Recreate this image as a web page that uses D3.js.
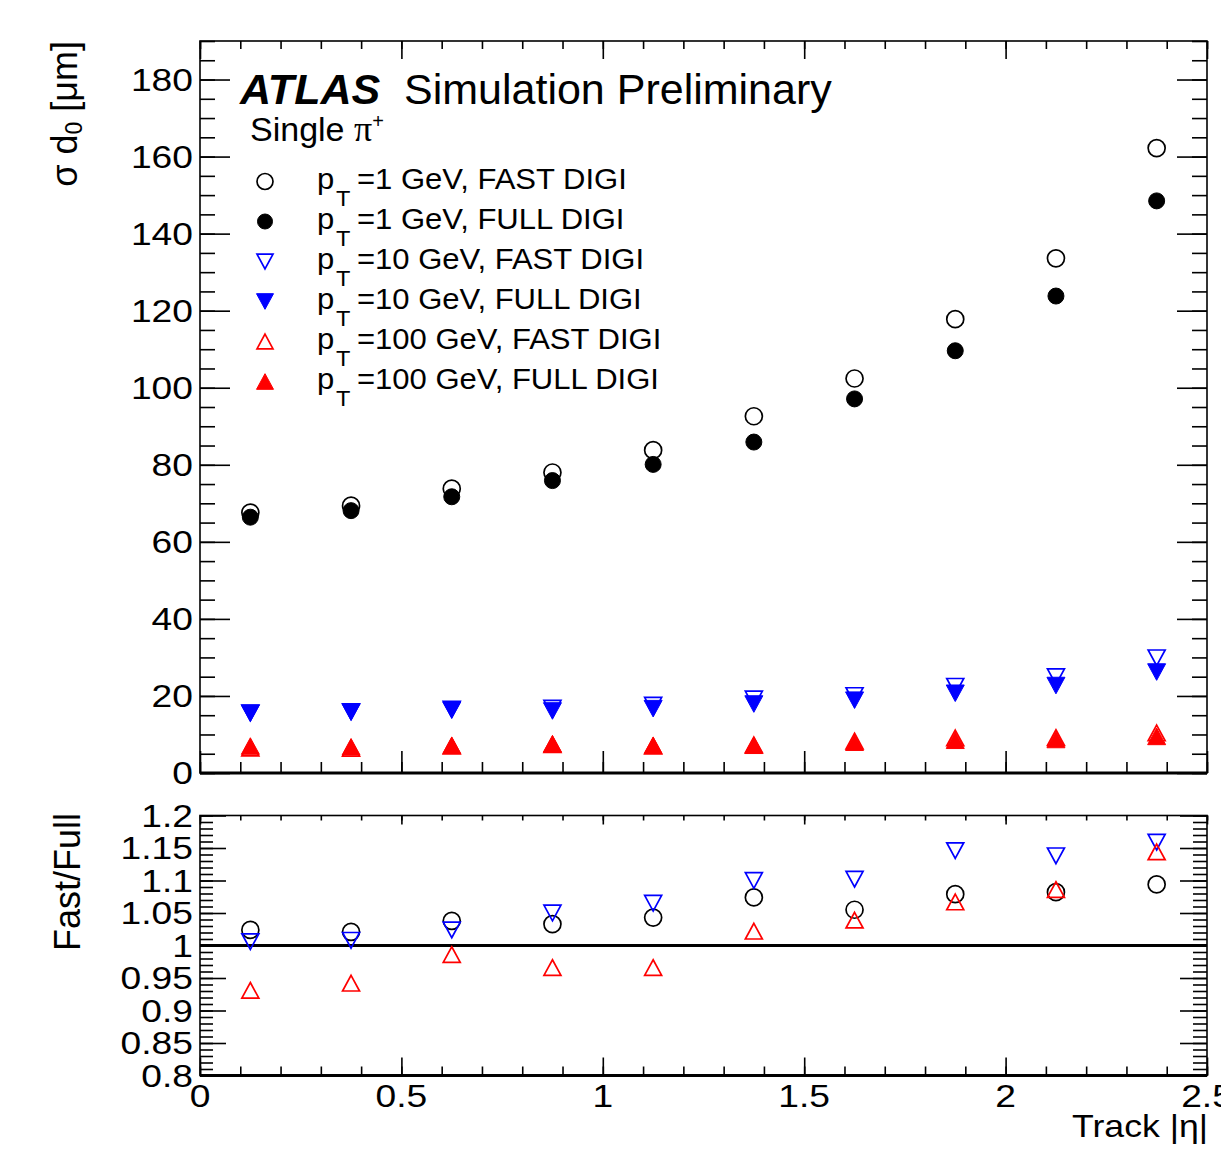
<!DOCTYPE html>
<html>
<head>
<meta charset="utf-8">
<script src="https://cdn.jsdelivr.net/npm/d3@7"></script>
<style>
  body { margin: 0; background: #fff; }
  svg { display: block; }
  text { font-family: "Liberation Sans", Arial, Helvetica, sans-serif; fill: #000; }
</style>
</head>
<body>
<svg id="chart" width="1221" height="1161"></svg>
<script>
// |eta| bin centres
const etaBins = [0.125, 0.375, 0.625, 0.875, 1.125, 1.375, 1.625, 1.875, 2.125, 2.375];

// sigma(d0) in micrometres
const sigmaFast1   = [67.6, 69.4, 73.8, 78.0, 83.8, 92.6, 102.4, 117.8, 133.6, 162.2];
const sigmaFull1   = [66.4, 68.1, 71.7, 75.9, 80.1, 85.9, 97.1, 109.6, 123.8, 148.5];
const sigmaFast10  = [15.6, 15.9, 16.6, 16.8, 17.6, 19.2, 20.1, 22.5, 25.0, 29.9];
const sigmaFull10  = [15.5, 15.8, 16.3, 16.1, 16.7, 17.9, 18.9, 20.7, 22.7, 26.2];
const sigmaFast100 = [6.5, 6.4, 7.0, 7.4, 7.0, 7.3, 8.3, 9.1, 9.2, 10.4];
const sigmaFull100 = [7.0, 6.8, 7.2, 7.6, 7.2, 7.2, 8.0, 8.5, 8.7, 9.5];

// Fast/Full ratios
const ratio1   = [1.024, 1.021, 1.038, 1.033, 1.043, 1.074, 1.055, 1.079, 1.082, 1.094];
const ratio10  = [1.006, 1.008, 1.024, 1.050, 1.065, 1.100, 1.102, 1.146, 1.138, 1.159];
const ratio100 = [0.931, 0.942, 0.986, 0.966, 0.966, 1.022, 1.039, 1.067, 1.086, 1.144];

// tick labels
const etaTickLabels   = ["0", "0.5", "1", "1.5", "2", "2.5"];
const sigmaTickLabels = ["0", "20", "40", "60", "80", "100", "120", "140", "160", "180"];
const ratioTickLabels = ["0.8", "0.85", "0.9", "0.95", "1", "1.05", "1.1", "1.15", "1.2"];

const legendLabels = ["=1 GeV, FAST DIGI", "=1 GeV, FULL DIGI", "=10 GeV, FAST DIGI",
                      "=10 GeV, FULL DIGI", "=100 GeV, FAST DIGI", "=100 GeV, FULL DIGI"];

const svg = d3.select("#chart");

const x = d3.scaleLinear().domain([0, 2.5]).range([200, 1207]);
const yTop = d3.scaleLinear().domain([0, 190]).range([773, 41]);
const yRat = d3.scaleLinear().domain([0.8, 1.2]).range([1075.5, 815.5]);

// ---- marker shapes (bounding-box centred, ROOT style) ----
const triUp = { draw(ctx, s) { const w = s, h = s * 0.92;
  ctx.moveTo(0, -h / 2); ctx.lineTo(w / 2, h / 2); ctx.lineTo(-w / 2, h / 2); ctx.closePath(); } };
const triDown = { draw(ctx, s) { const w = s, h = s * 0.92;
  ctx.moveTo(0, h / 2); ctx.lineTo(w / 2, -h / 2); ctx.lineTo(-w / 2, -h / 2); ctx.closePath(); } };
const ring = { draw(ctx, s) { ctx.moveTo(s / 2, 0); ctx.arc(0, 0, s / 2, 0, 2 * Math.PI); } };

const styles = [
  { shape: ring,    color: "#000000", filled: false, size: 17 },
  { shape: ring,    color: "#000000", filled: true,  size: 16 },
  { shape: triDown, color: "#0000ff", filled: false, size: 17 },
  { shape: triDown, color: "#0000ff", filled: true,  size: 18 },
  { shape: triUp,   color: "#ff0000", filled: false, size: 17 },
  { shape: triUp,   color: "#ff0000", filled: true,  size: 18 }
];

function drawMarkers(parent, values, st, yScale) {
  parent.append("g").selectAll("path").data(values).join("path")
    .attr("transform", (d, i) => `translate(${x(etaBins[i])},${yScale(d)})`)
    .attr("d", d3.symbol(st.shape, st.size))
    .attr("fill", st.filled ? st.color : "none")
    .attr("stroke", st.color)
    .attr("stroke-width", st.filled ? 1 : 1.7);
}

// ---- ticks via d3 axes (inward pointing) ----
function ticks(make, scale, tx, ty, values, len) {
  const g = svg.append("g").attr("transform", `translate(${tx},${ty})`)
    .call(make(scale).tickValues(values).tickSize(-len).tickSizeOuter(0).tickFormat(""));
  g.select(".domain").remove();
  g.selectAll(".tick line").attr("stroke", "#000").attr("stroke-width", 1.6);
}

const etaMajor = etaTickLabels.map(Number);
const etaMinor = d3.range(0, 26).map(v => v / 10);
const sigMajor = sigmaTickLabels.map(Number);
const sigMinor = d3.range(0, 191, 5);
const ratMajor = ratioTickLabels.map(Number);
const ratMinor = d3.range(80, 121).map(v => v / 100);

// upper pad
ticks(d3.axisLeft,   yTop, 200, 0, sigMinor, 15);
ticks(d3.axisLeft,   yTop, 200, 0, sigMajor, 30);
ticks(d3.axisRight,  yTop, 1207, 0, sigMinor, 15);
ticks(d3.axisRight,  yTop, 1207, 0, sigMajor, 30);
ticks(d3.axisBottom, x, 0, 773, etaMinor, 11);
ticks(d3.axisBottom, x, 0, 773, etaMajor, 22);
ticks(d3.axisTop,    x, 0, 41, etaMinor, 8);
ticks(d3.axisTop,    x, 0, 41, etaMajor, 18);

// lower pad
ticks(d3.axisLeft,   yRat, 200, 0, ratMinor, 13);
ticks(d3.axisLeft,   yRat, 200, 0, ratMajor, 26);
ticks(d3.axisRight,  yRat, 1207, 0, ratMinor, 14);
ticks(d3.axisRight,  yRat, 1207, 0, ratMajor, 27);
ticks(d3.axisBottom, x, 0, 1075.5, etaMinor, 9);
ticks(d3.axisBottom, x, 0, 1075.5, etaMajor, 18);
ticks(d3.axisTop,    x, 0, 815.5, etaMinor, 5);
ticks(d3.axisTop,    x, 0, 815.5, etaMajor, 9);

// frames
svg.append("rect").attr("x", x(0)).attr("y", yTop(190))
  .attr("width", x(2.5) - x(0)).attr("height", yTop(0) - yTop(190))
  .attr("fill", "none").attr("stroke", "#000").attr("stroke-width", 1.6);
svg.append("line").attr("x1", x(0)).attr("x2", x(2.5)).attr("y1", yTop(0)).attr("y2", yTop(0))
  .attr("stroke", "#000").attr("stroke-width", 3);

svg.append("rect").attr("x", x(0)).attr("y", yRat(1.2))
  .attr("width", x(2.5) - x(0)).attr("height", yRat(0.8) - yRat(1.2))
  .attr("fill", "none").attr("stroke", "#000").attr("stroke-width", 1.6);
svg.append("line").attr("x1", x(0)).attr("x2", x(2.5)).attr("y1", yRat(0.8)).attr("y2", yRat(0.8))
  .attr("stroke", "#000").attr("stroke-width", 3);
svg.append("line").attr("x1", x(0)).attr("x2", x(2.5)).attr("y1", yRat(1)).attr("y2", yRat(1))
  .attr("stroke", "#000").attr("stroke-width", 3);

// tick labels (wide Helvetica-like digits)
const labelScale = "scale(1.2,1)";
svg.append("g").selectAll("text").data(sigmaTickLabels).join("text")
  .attr("transform", d => `translate(193,${yTop(+d) + 11}) ${labelScale}`)
  .attr("text-anchor", "end").attr("font-size", 31).text(d => d);
svg.append("g").selectAll("text").data(ratioTickLabels).join("text")
  .attr("transform", d => `translate(193,${yRat(+d) + 11}) ${labelScale}`)
  .attr("text-anchor", "end").attr("font-size", 31).text(d => d);
svg.append("g").selectAll("text").data(etaTickLabels).join("text")
  .attr("transform", d => `translate(${x(+d)},1107) ${labelScale}`)
  .attr("text-anchor", "middle").attr("font-size", 31).text(d => d);

// axis titles
svg.append("text").attr("transform", "translate(1208,1137) scale(1.15,1)")
  .attr("text-anchor", "end").attr("font-size", 31).text("Track |η|");

const yt = svg.append("text").attr("transform", "translate(77,41) rotate(-90)")
  .attr("text-anchor", "end").attr("font-size", 36);
yt.append("tspan").text("σ d");
yt.append("tspan").attr("font-size", 23).attr("dy", 5).text("0");
yt.append("tspan").attr("dy", -5).text(" [μm]");

svg.append("text").attr("transform", "translate(80,813) rotate(-90)")
  .attr("text-anchor", "end").attr("font-size", 36).text("Fast/Full");

// data: upper pad
const upper = [sigmaFast1, sigmaFull1, sigmaFast10, sigmaFull10, sigmaFast100, sigmaFull100];
upper.forEach((vals, k) => drawMarkers(svg, vals, styles[k], yTop));

// data: ratio pad
const ratios = [ratio1, ratio10, ratio100];
ratios.forEach((vals, k) => drawMarkers(svg, vals, styles[2 * k], yRat));

// ATLAS label
svg.append("text").attr("x", 240).attr("y", 104).attr("font-size", 43)
  .attr("font-weight", "bold").attr("font-style", "italic").text("ATLAS");
svg.append("text").attr("x", 404).attr("y", 104).attr("font-size", 43).text("Simulation Preliminary");

const sp = svg.append("text").attr("x", 250).attr("y", 141).attr("font-size", 34);
sp.append("tspan").text("Single ");
sp.append("tspan").attr("font-family", "'Liberation Serif', serif").attr("font-size", 36).text("π");
sp.append("tspan").attr("font-size", 20).attr("dy", -13).text("+");

// legend
const legend = svg.append("g");
legendLabels.forEach((lab, k) => {
  const cy = 181.5 + k * 40;
  const st = styles[k];
  legend.append("path").attr("transform", `translate(265,${cy})`)
    .attr("d", d3.symbol(st.shape, st.size - 1))
    .attr("fill", st.filled ? st.color : "none")
    .attr("stroke", st.color).attr("stroke-width", st.filled ? 1 : 1.7);
  legend.append("text").attr("transform", `translate(317,${cy + 7}) scale(1.07,1)`)
    .attr("font-size", 29).text("p");
  legend.append("text").attr("transform", `translate(336,${cy + 24}) scale(1.07,1)`)
    .attr("font-size", 22).text("T");
  legend.append("text").attr("transform", `translate(357,${cy + 7}) scale(1.07,1)`)
    .attr("font-size", 29).text(lab);
});
</script>
</body>
</html>
